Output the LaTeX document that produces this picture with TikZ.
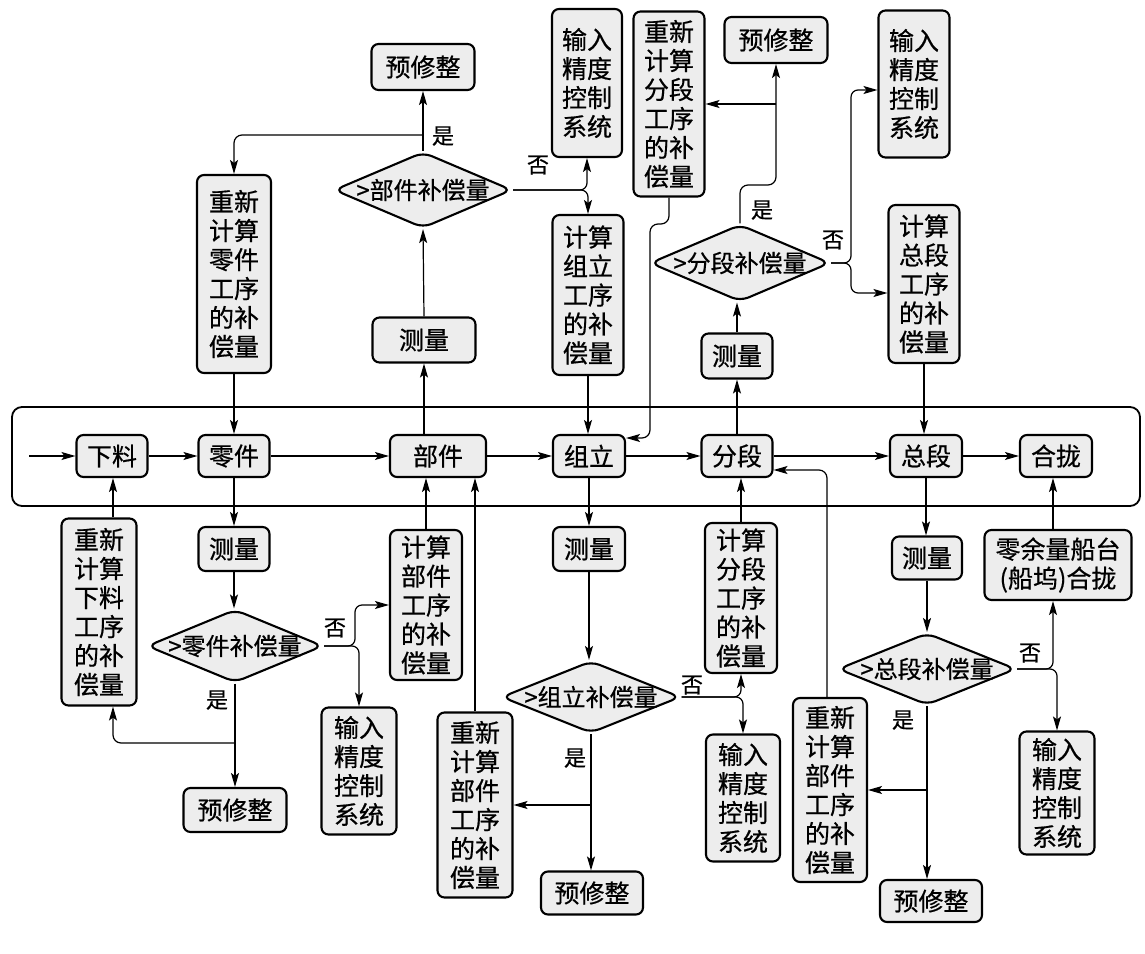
\documentclass[tikz,border=0pt]{standalone}
\usepackage{fontspec}
\setmainfont{Noto Sans CJK SC}[FakeBold=0.6]
\newfontfamily\cjkfont{Noto Sans CJK SC}[FakeBold=0.6]
\usetikzlibrary{arrows.meta,shapes.geometric}
\definecolor{boxgray}{gray}{0.93}
\begin{document}
\begin{tikzpicture}[x=1pt,y=-1pt,
 box/.style={draw,line width=2.1pt,rounded corners=7pt,fill=boxgray,inner sep=0pt,align=center,font=\cjkfont\fontsize{25}{29}\selectfont},
 dia/.style={draw,line width=2.1pt,shape=diamond,rounded corners=9pt,fill=boxgray,inner sep=0pt,font=\cjkfont\fontsize{24}{29}\selectfont},
 conn/.style={line width=1.2pt,-{Stealth[length=14pt,width=8pt,inset=3pt]}},
 lbl/.style={font=\cjkfont\fontsize{22}{22}\selectfont,inner sep=0pt}]
\useasboundingbox (0,0) rectangle (1145,953);
% frame
\draw[line width=1.8pt,rounded corners=10pt] (12,407) rectangle (1140,506);
% main row
\node[box,minimum width=71pt,minimum height=42pt] (xl) at (112,456) {下料};
\node[box,minimum width=71pt,minimum height=42pt] (lj) at (234,456) {零件};
\node[box,minimum width=96pt,minimum height=42pt] (bj) at (438,456) {部件};
\node[box,minimum width=72pt,minimum height=42pt] (zl) at (589,456) {组立};
\node[box,minimum width=71pt,minimum height=42pt] (fd) at (737,456) {分段};
\node[box,minimum width=72pt,minimum height=42pt] (zd) at (926,456) {总段};
\node[box,minimum width=72pt,minimum height=42pt] (hl) at (1056,456) {合拢};
% top
\node[box,minimum width=74pt,minimum height=198pt] (rlj) at (234,274) {重新\\计算\\零件\\工序\\的补\\偿量};
\node[box,minimum width=103pt,minimum height=46pt] (yxzA) at (423,67) {预修整};
\node[dia,minimum width=178pt,minimum height=76pt] (dA) at (423,190) {\makebox[0pt]{>部件补偿量}};
\node[box,minimum width=103pt,minimum height=45pt] (clA) at (424,340) {测量};
\node[box,minimum width=70pt,minimum height=148pt] (srA) at (587,83) {输入\\精度\\控制\\系统};
\node[box,minimum width=71pt,minimum height=160pt] (jzl) at (588,295) {计算\\组立\\工序\\的补\\偿量};
\node[box,minimum width=71pt,minimum height=185pt] (rfd) at (669,104) {重新\\计算\\分段\\工序\\的补\\偿量};
\node[box,minimum width=103pt,minimum height=46pt] (yxzB) at (776,40) {预修整};
\node[dia,minimum width=180pt,minimum height=77pt] (dB) at (740,263) {\makebox[0pt]{>分段补偿量}};
\node[box,minimum width=71pt,minimum height=45pt] (clB) at (737,356) {测量};
\node[box,minimum width=71pt,minimum height=147pt] (srB) at (914,84) {输入\\精度\\控制\\系统};
\node[box,minimum width=71pt,minimum height=158pt] (jzd) at (924,284) {计算\\总段\\工序\\的补\\偿量};
% bottom
\node[box,minimum width=71pt,minimum height=44pt] (clC) at (234,549) {测量};
\node[dia,minimum width=176pt,minimum height=73pt] (dC) at (235,646) {\makebox[0pt]{>零件补偿量}};
\node[box,minimum width=72pt,minimum height=150pt] (jbj) at (426,605) {计算\\部件\\工序\\的补\\偿量};
\node[box,minimum width=75pt,minimum height=127pt] (srC) at (359,771) {输入\\精度\\控制\\系统};
\node[box,minimum width=103pt,minimum height=44pt] (yxzC) at (235,810) {预修整};
\node[box,minimum width=75pt,minimum height=187pt] (rxl) at (99,612) {重新\\计算\\下料\\工序\\的补\\偿量};
\node[box,minimum width=72pt,minimum height=44pt] (clD) at (589,549) {测量};
\node[dia,minimum width=179pt,minimum height=72pt] (dD) at (591,697) {\makebox[0pt]{>组立补偿量}};
\node[box,minimum width=72pt,minimum height=150pt] (jfd) at (741,598) {计算\\分段\\工序\\的补\\偿量};
\node[box,minimum width=74pt,minimum height=127pt] (srD) at (743,798) {输入\\精度\\控制\\系统};
\node[box,minimum width=75pt,minimum height=185pt] (rbjA) at (475,805) {重新\\计算\\部件\\工序\\的补\\偿量};
\node[box,minimum width=102pt,minimum height=43pt] (yxzD) at (592,893) {预修整};
\node[box,minimum width=70pt,minimum height=43pt] (clE) at (927,558) {测量};
\node[dia,minimum width=178pt,minimum height=72pt] (dE) at (927,669) {\makebox[0pt]{>总段补偿量}};
\node[box,minimum width=147pt,minimum height=70pt] (lyl) at (1058,565) {零余量船台\\(船坞)合拢};
\node[box,minimum width=75pt,minimum height=123pt] (srE) at (1057,793) {输入\\精度\\控制\\系统};
\node[box,minimum width=74pt,minimum height=184pt] (rbjB) at (830,790) {重新\\计算\\部件\\工序\\的补\\偿量};
\node[box,minimum width=102pt,minimum height=42pt] (yxzE) at (931,901) {预修整};
% labels
\node[lbl] (l1) at (443,136) {是};
\node[lbl] (l2) at (538,165) {否};
\node[lbl] (l3) at (762,210) {是};
\node[lbl] (l4) at (833,240) {否};
\node[lbl] (l5) at (335,628) {否};
\node[lbl] (l6) at (217,700) {是};
\node[lbl] (l7) at (692,685) {否};
\node[lbl] (l8) at (575,758) {是};
\node[lbl] (l9) at (1030,653) {否};
\node[lbl] (l10) at (903,720) {是};
% main row connectors
\coordinate (start) at (29,456);
\draw[conn] (start) -- (xl);
\draw[conn] (xl) -- (lj);
\draw[conn] (lj) -- (bj);
\draw[conn] (bj) -- (zl);
\draw[conn] (zl) -- (fd);
\draw[conn] (fd) -- (zd);
\draw[conn] (zd) -- (hl);
% top connectors
\draw[conn] (bj.north -| clA) -- (clA.south);
\draw[conn] (clA.north) -- (dA.south);
\draw[conn] (dA.north) -- (yxzA.south);
\draw[conn,rounded corners=8pt] (dA.north |- 0,135) -| (rlj.north);
\draw[conn] (rlj.south) -- (lj.north);
\draw[conn,rounded corners=7pt] (dA.east) -| (srA.south);
\draw[conn,rounded corners=7pt] (dA.east) -| (jzl.north);
\draw[conn] (jzl.south) -- (jzl.south |- zl.north);
\draw[conn,rounded corners=8pt] (rfd.south) |- (650,224) |- ([yshift=18pt]zl.east);
\draw[conn,rounded corners=8pt] (dB.north) |- (yxzB.south |- 0,185) -- (yxzB.south);
\draw[conn] (yxzB.south |- rfd.east) -- (rfd.east);
\draw[conn] (fd.north -| clB) -- (clB.south);
\draw[conn] (clB.north) -- (clB.north |- dB.south);
\coordinate (jB) at (851,263);
\draw[conn,rounded corners=7pt] (dB.east) -- (jB) |- ([yshift=-6pt]srB.west);
\draw[conn,rounded corners=7pt] (dB.east) -- (jB) |- ([yshift=-9pt]jzd.west);
\draw[conn] (jzd.south) -- (jzd.south |- zd.north);
% bottom connectors
\draw[conn] (lj.south) -- (clC.north);
\draw[conn] (clC.south) -- (clC.south |- dC.north);
\coordinate (jC) at (355,646);
\draw[conn,rounded corners=7pt] (dC.east) -- (jC) |- (jbj.west);
\draw[conn,rounded corners=7pt] (dC.east) -| (srC.north);
\draw[conn] (jbj.north) -- (jbj.north |- bj.south);
\draw[conn] (dC.south) -- (dC.south |- yxzC.north);
\draw[conn,rounded corners=8pt] (dC.south |- 0,743) -| ([xshift=14pt]rxl.south);
\draw[conn] ([xshift=14pt]rxl.north) -- ([xshift=14pt]rxl.north |- xl.south);
\draw[conn] (zl.south) -- (clD.north);
\draw[conn] (clD.south) -- (clD.south |- dD.north);
\draw[conn,rounded corners=7pt] (dD.east) -| (jfd.south);
\draw[conn,rounded corners=7pt] (dD.east) -| (srD.north);
\draw[conn] (jfd.north) -- (jfd.north |- fd.south);
\draw[conn] (dD.south) -- (dD.south |- yxzD.north);
\draw[conn] (dD.south |- rbjA.east) -- (rbjA.east);
\draw[conn] (rbjA.north) -- (rbjA.north |- bj.south);
\draw[conn] (zd.south) -- (zd.south |- clE.north);
\draw[conn] (clE.south) -- (dE.north);
\draw[conn,rounded corners=7pt] (dE.east) -| ([xshift=-5pt]lyl.south);
\draw[conn,rounded corners=7pt] (dE.east) -| (srE.north);
\draw[conn] ([xshift=-5pt]lyl.north) -- ([xshift=-5pt]lyl.north |- hl.south);
\draw[conn] (dE.south) -- (dE.south |- yxzE.north);
\draw[conn] (dE.south |- rbjB.east) -- (rbjB.east);
\draw[conn,rounded corners=8pt] ([xshift=-3pt]rbjB.north) |- ([yshift=-14pt]fd.east);
\end{tikzpicture}
\end{document}
